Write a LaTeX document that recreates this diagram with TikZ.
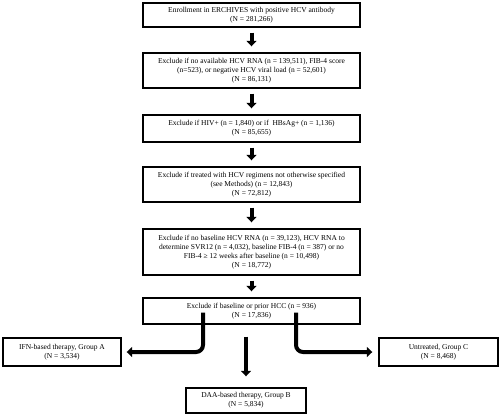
\documentclass[tikz,border=0pt]{standalone}
\usepackage{fontspec}
\setmainfont{Liberation Serif}
\usetikzlibrary{arrows.meta}
\begin{document}
\begin{tikzpicture}[x=1pt,y=-1pt,
  box/.style={draw=black, line width=1.4pt, fill=white, inner sep=0pt, align=center,
    font=\fontsize{7.5}{8.9}\selectfont, minimum width=217pt},
  smallbox/.style={box, minimum width=118pt},
  bigarrow/.style={line width=4pt, -{Triangle[width=10pt,length=5.5pt]}}]
\useasboundingbox (0,0) rectangle (500,416);
\node[box, minimum height=24pt] (b1) at (251.5,15) {Enrollment in ERCHIVES with positive HCV antibody\\(N = 281,266)};
\node[box, minimum height=35pt] (b2) at (251.5,70.5) {Exclude if no available HCV RNA (n = 139,511), FIB-4 score\\(n=523), or negative HCV viral load (n = 52,601)\\(N = 86,131)};
\node[box, minimum height=27pt] (b3) at (251.5,128.5) {Exclude if HIV+ (n = 1,840) or if \ HBsAg+ (n = 1,136)\\(N = 85,655)};
\node[box, minimum height=35pt] (b4) at (251.5,184.5) {Exclude if treated with HCV regimens not otherwise specified\\(see Methods) (n = 12,843)\\(N = 72,812)};
\node[box, minimum height=46pt] (b5) at (251.5,252) {Exclude if no baseline HCV RNA (n = 39,123), HCV RNA to\\determine SVR12 (n = 4,032), baseline FIB-4 (n = 387) or no\\FIB-4 ≥ 12 weeks after baseline (n = 10,498)\\(N = 18,772)};
\node[box, minimum height=26pt] (b6) at (251.5,311) {Exclude if baseline or prior HCC (n = 936)\\(N = 17,836)};
\node[smallbox, minimum height=28pt] (A) at (62,352) {IFN-based therapy, Group A\\(N = 3,534)};
\node[smallbox, minimum width=119pt, minimum height=28pt] (C) at (438.5,352) {Untreated, Group C\\(N = 8,468)};
\node[smallbox, minimum width=120pt, minimum height=25pt] (B) at (246,400.5) {DAA-based therapy, Group B\\(N = 5,834)};
\foreach \a/\b in {b1/b2,b2/b3,b3/b4,b4/b5,b5/b6}
  \draw[bigarrow, shorten <=5pt, shorten >=6pt] (\a.south) -- (\b.north);
\draw[bigarrow, rounded corners=7pt, shorten >=5pt] ([xshift=-48.5pt,yshift=12pt]b6.south) |- (A.east);
\draw[bigarrow, rounded corners=7pt, shorten >=6pt] ([xshift=44.5pt,yshift=12pt]b6.south) |- (C.west);
\draw[bigarrow, shorten <=12pt, shorten >=11pt] (b6.south -| B.north) -- (B.north);
\end{tikzpicture}
\end{document}
